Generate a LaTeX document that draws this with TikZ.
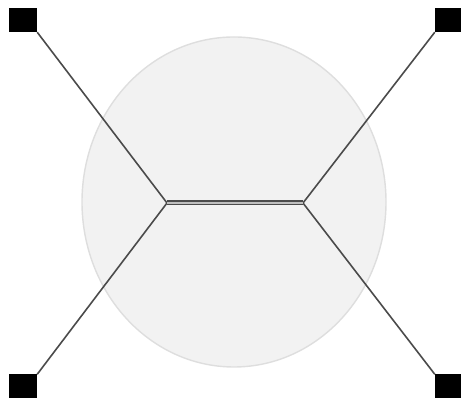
\documentclass[tikz,border=0pt]{standalone}
\usepackage{xcolor}
\usepackage{tikz}
\usetikzlibrary{positioning,calc}
\definecolor{linkgray}{RGB}{75,75,75}
\definecolor{blobfill}{RGB}{242,242,242}
\definecolor{blobline}{RGB}{222,222,222}
\tikzset{
  term/.style  = {fill=black, draw=none, minimum width=28pt, minimum height=24pt, inner sep=0pt},
  leg/.style   = {draw=linkgray, line width=1.6pt},
  bond/.style  = {draw=linkgray, line width=1.2pt, double=black!25, double distance=2.6pt},
  blob/.style  = {fill=blobfill, draw=blobline, line width=1.4pt},
}
\begin{document}
\begin{tikzpicture}[x=1pt,y=1pt]
  \useasboundingbox (0,0) rectangle (461,398);
  \filldraw[blob] (234,196) ellipse [x radius=152, y radius=165];
  \node[term] (tl) at (23,378) {};
  \node[term] (tr) at (449,378) {};
  \node[term] (bl) at (23,11.5) {};
  \node[term] (br) at (449,11.5) {};
  \coordinate (jl) at (167,195);
  \coordinate (jr) at (303,195);
  \draw[leg] (tl.south east) -- (jl) -- (bl.north east);
  \draw[leg] (tr.south west) -- (jr) -- (br.north west);
  \draw[bond] (jl) -- (jr);
\end{tikzpicture}
\end{document}
